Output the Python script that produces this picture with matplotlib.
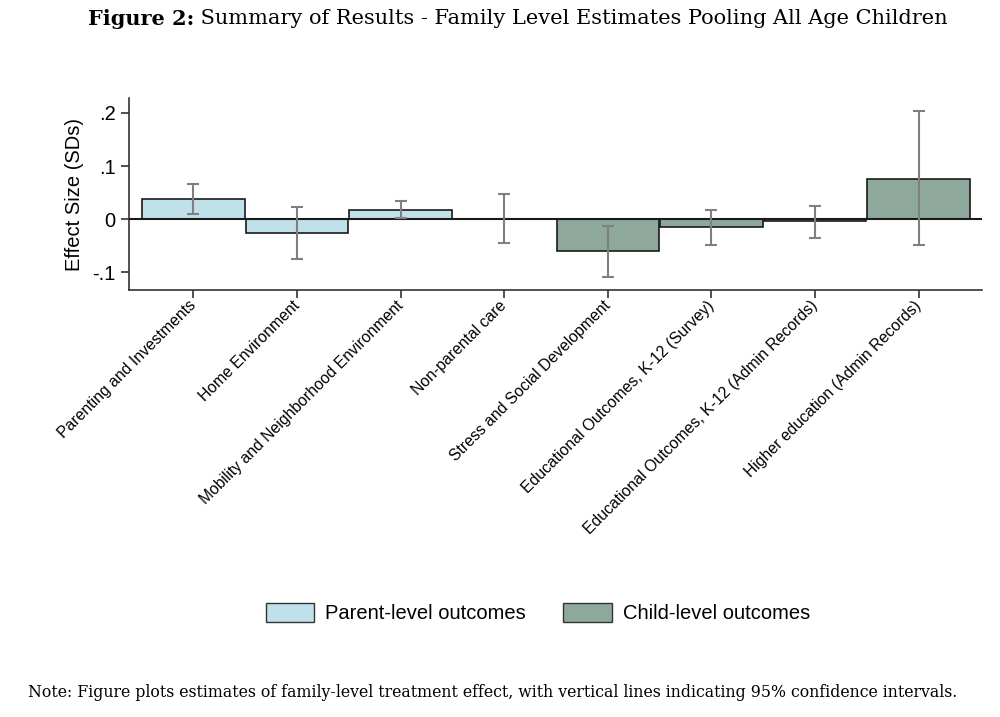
import matplotlib
matplotlib.use("Agg")
import matplotlib.pyplot as plt
from matplotlib.patches import Patch
import matplotlib.transforms as mtransforms

categories = ["Parenting and Investments", "Home Environment",
              "Mobility and Neighborhood Environment", "Non-parental care",
              "Stress and Social Development",
              "Educational Outcomes, K-12 (Survey)",
              "Educational Outcomes, K-12 (Admin Records)",
              "Higher education (Admin Records)"]
effects = [0.0375, -0.025, 0.0174, 0.001, -0.060, -0.0138, -0.003, 0.076]
ci_low = [0.0099, -0.075, 0.0025, -0.044, -0.108, -0.049, -0.0344, -0.049]
ci_high = [0.0668, 0.0236, 0.035, 0.048, -0.013, 0.018, 0.0256, 0.204]
group = ["parent", "parent", "parent", "parent", "child", "child", "child", "child"]
yticks = [-0.1, 0.0, 0.1, 0.2]
ytick_labels = ["-.1", "0", ".1", ".2"]

colors = {"parent": "#c0e0ea", "child": "#8ea89c"}
sans = ["Liberation Sans", "DejaVu Sans"]
serif = ["DejaVu Serif"]

fig = plt.figure(figsize=(10, 7.17), dpi=100)
ax = fig.add_axes([0.129, 0.5955, 0.853, 0.2678])

x = list(range(len(categories)))
ax.bar(x, effects, width=0.99, color=[colors[g] for g in group],
       edgecolor="#1a1a1a", linewidth=1.2, zorder=2)
ax.axhline(0, color="#1a1a1a", linewidth=1.5, zorder=3)
yerr_lo = [e - l for e, l in zip(effects, ci_low)]
yerr_hi = [h - e for e, h in zip(effects, ci_high)]
ax.errorbar(x, effects, yerr=[yerr_lo, yerr_hi], fmt="none", ecolor="#808080",
            elinewidth=1.5, capsize=4, capthick=1.5, zorder=4)

ax.set_xlim(-0.62, 7.61)
ax.set_ylim(-0.133, 0.228)
ax.set_yticks(yticks)
ax.set_yticklabels(ytick_labels, family=sans, fontsize=14.5)
ax.set_xticks(x)
ax.set_xticklabels(categories, rotation=45, ha="right", va="center",
                   rotation_mode="anchor", family=sans, fontsize=11.3)
offset = mtransforms.ScaledTranslation(-2 / 100, -4 / 100, fig.dpi_scale_trans)
for lbl in ax.get_xticklabels():
    lbl.set_transform(lbl.get_transform() + offset)
ax.set_ylabel("Effect Size (SDs)", family=sans, fontsize=14.5, labelpad=6)
for s in ["top", "right"]:
    ax.spines[s].set_visible(False)
for s in ["left", "bottom"]:
    ax.spines[s].set_color("#333333")
    ax.spines[s].set_linewidth(1.2)
ax.tick_params(axis="both", direction="out", length=6, width=1.2, color="#333333")

handles = [Patch(facecolor=colors["parent"], edgecolor="#333333", label="Parent-level outcomes"),
           Patch(facecolor=colors["child"], edgecolor="#333333", label="Child-level outcomes")]
fig.legend(handles=handles, loc="center", bbox_to_anchor=(0.538, 0.145), ncol=2,
           frameon=False, prop={"family": sans, "size": 14.5}, handlelength=2.4,
           handleheight=1.05, columnspacing=1.85, handletextpad=0.55)

# Title: bold prefix + regular remainder, centered as a whole
fig.canvas.draw()
renderer = fig.canvas.get_renderer()
t1 = fig.text(0, 0.974, "Figure 2:", fontsize=15, fontweight="bold", family=serif,
              ha="left", va="center")
t2 = fig.text(0, 0.974, " Summary of Results - Family Level Estimates Pooling All Age Children",
              fontsize=15, family=serif, ha="left", va="center")
w1 = t1.get_window_extent(renderer).width / fig.bbox.width
w2 = t2.get_window_extent(renderer).width / fig.bbox.width
start = 0.518 - (w1 + w2) / 2
t1.set_x(start)
t2.set_x(start + w1)

fig.text(0.028, 0.034, "Note: Figure plots estimates of family-level treatment effect, with vertical lines indicating 95% confidence intervals.",
         fontsize=11.3, family=serif, ha="left", va="center")

fig.savefig("out.png", dpi=100)
